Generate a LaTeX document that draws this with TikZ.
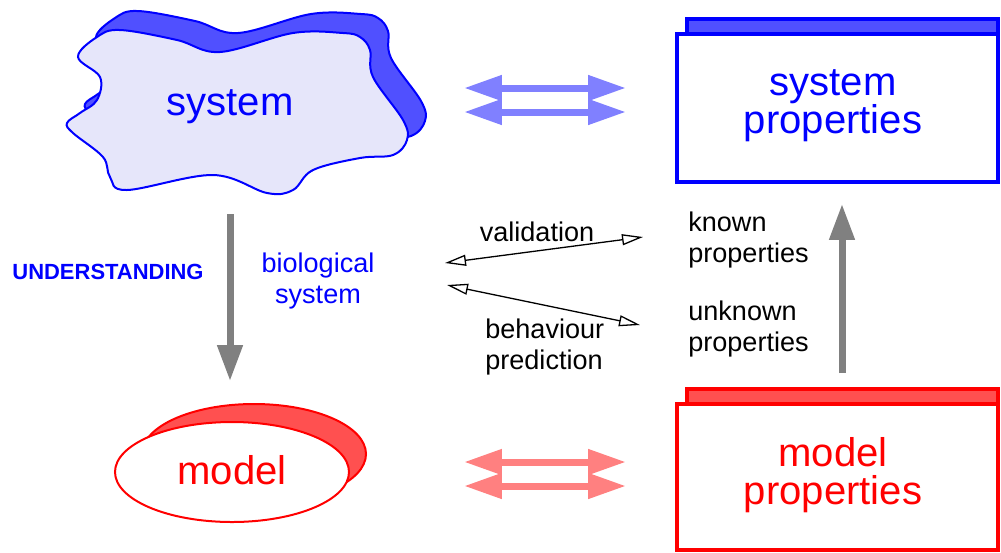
\documentclass[tikz,border=0pt]{standalone}
\usepackage{fontspec}
\setmainfont{Liberation Sans}
\usetikzlibrary{arrows.meta}
\definecolor{sysblue}{RGB}{0,0,255}
\definecolor{shadeblue}{RGB}{80,80,255}
\definecolor{paleblue}{RGB}{230,230,250}
\definecolor{arrblue}{RGB}{128,128,255}
\definecolor{modred}{RGB}{255,0,0}
\definecolor{shadered}{RGB}{255,80,80}
\definecolor{arrred}{RGB}{255,128,128}
\definecolor{arrgrey}{RGB}{128,128,128}
\tikzset{
	bigtxt/.style={align=center, inner sep=0pt, font=\fontsize{22.8}{21.6}\selectfont},
	midtxt/.style={align=left, inner sep=0pt, font=\fontsize{15.4}{17.4}\selectfont},
	fattip/.tip={Triangle[open, length=0.8cm, width=0.46cm, line width=0.19cm]},
	fatarrow/.style={line width=0.14cm, fattip-fattip},
	greyarrow/.style={arrgrey, line width=0.14cm, -{Triangle[open, length=0.76cm, width=0.46cm, line width=0.19cm]}},
	thintip/.tip={Triangle[open, length=0.42cm, width=0.22cm]},
	thinarrow/.style={black, line width=0.026cm, thintip-thintip}
}
\begin{document}
\begin{tikzpicture}[x=0.02cm, y=-0.02cm]
	\useasboundingbox (0,0) rectangle (1001,552);
	% system blob, shadow first
	\def\blob{plot[smooth cycle, tension=0.6] coordinates {(78,57) (100,77) (97,100) (80,113) (67,123) (73,133) (103,157) (110,177) (127,190) (213,175) (267,193) (293,190) (313,170) (360,158) (393,155) (407,140) (403,120) (373,77) (370,50) (360,37) (343,33) (293,33) (220,52) (177,40) (120,30) (97,37)}}
	\draw[sysblue, line width=0.04cm, fill=shadeblue, xshift=0.36cm, yshift=0.38cm] \blob;
	\draw[sysblue, line width=0.04cm, fill=paleblue] \blob;
	\node[bigtxt, sysblue] (sys) at (230,107) {system};
	% model ellipse
	\draw[modred, line width=0.04cm, fill=shadered] (254,454) ellipse [x radius=112, y radius=50];
	\draw[modred, line width=0.04cm, fill=white] (232,472) ellipse [x radius=117, y radius=50];
	\node[bigtxt, modred] (mod) at (232,470) {model};
	% property boxes
	\draw[sysblue, line width=0.066cm, fill=shadeblue] (687,19) rectangle (998,60);
	\draw[sysblue, line width=0.066cm, fill=white] (677,34) rectangle (998,182);
	\node[bigtxt, sysblue] (sysprop) at (833,106) {system\\properties};
	\draw[modred, line width=0.066cm, fill=shadered] (687,389) rectangle (998,430);
	\draw[modred, line width=0.066cm, fill=white] (677,404) rectangle (998,550);
	\node[bigtxt, modred] (modprop) at (833,475) {model\\properties};
	% double arrows
	\coordinate (bl1) at (462,88); \coordinate (br1) at (628,88);
	\coordinate (bl2) at (462,112); \coordinate (br2) at (628,112);
	\coordinate (rl1) at (462,462); \coordinate (rr1) at (628,462);
	\coordinate (rl2) at (462,486); \coordinate (rr2) at (628,486);
	\draw[fatarrow, arrblue] (bl1) -- (br1);
	\draw[fatarrow, arrblue] (bl2) -- (br2);
	\draw[fatarrow, arrred] (rl1) -- (rr1);
	\draw[fatarrow, arrred] (rl2) -- (rr2);
	% grey arrows
	\coordinate (dtop) at (230,214); \coordinate (dbot) at (230,383);
	\coordinate (ubot) at (842,373); \coordinate (utop) at (842,202);
	\draw[greyarrow] (dtop) -- (dbot);
	\draw[greyarrow] (ubot) -- (utop);
	% labels
	\node[font=\fontsize{12.5}{14}\selectfont\bfseries, sysblue, inner sep=0pt] (under) at (108,272) {UNDERSTANDING};
	\node[midtxt, align=center, sysblue] (bio) at (318,281) {biological\\system};
	\node[midtxt, align=center] (valid) at (537,232) {validation};
	\node[midtxt, anchor=west] (behav) at (485,347) {behaviour\\prediction};
	\node[midtxt, anchor=west] (known) at (688,240) {known\\properties};
	\node[midtxt, anchor=west] (unknown) at (688,329) {unknown\\properties};
	% thin arrows
	\coordinate (vr) at (643,237); \coordinate (vl) at (445,263);
	\coordinate (pl) at (447,285); \coordinate (pr) at (640,325);
	\draw[thinarrow] (vl) -- (vr);
	\draw[thinarrow] (pl) -- (pr);
\end{tikzpicture}
\end{document}
